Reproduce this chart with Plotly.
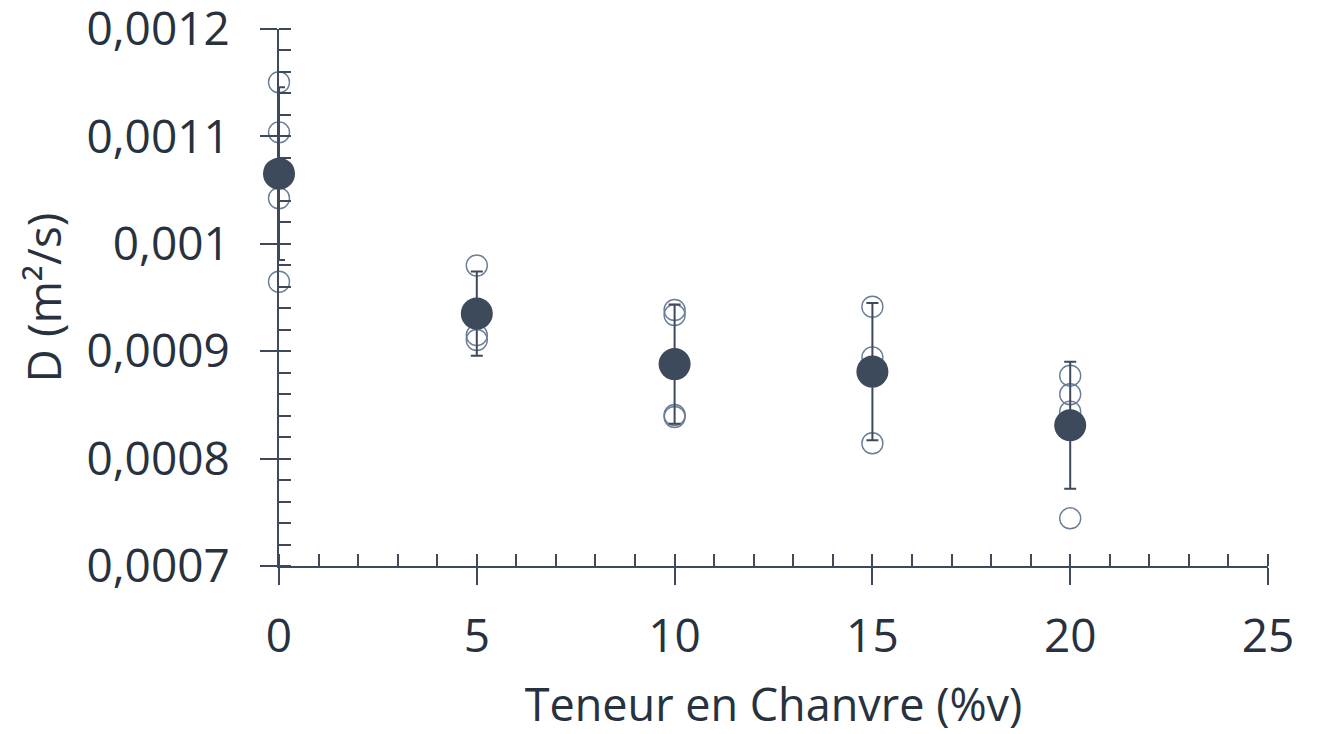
import plotly.graph_objects as go

# Data
teneur = [0, 5, 10, 15, 20]
d_mean = [0.0010653, 0.000935, 0.0008880, 0.0008810, 0.0008310]
d_err = [0.0000804, 0.0000392, 0.0000555, 0.0000639, 0.0000591]

ind_x = [0, 0, 0, 0,
         5, 5, 5,
         10, 10, 10, 10,
         15, 15, 15,
         20, 20, 20, 20]
ind_y = [0.0011504, 0.0011038, 0.0010424, 0.0009647,
         0.0009798, 0.0009150, 0.0009104,
         0.0009384, 0.0009337, 0.0008406, 0.0008387,
         0.0009414, 0.0008943, 0.0008143,
         0.0008772, 0.0008599, 0.0008437, 0.0007444]

x_title = "Teneur en Chanvre (%v)"
y_title = "D (m²/s)"

AX = "#3e4a5b"
TXT = "#28323f"
FONT = "Open Sans"

fig = go.Figure()
fig.add_trace(go.Scatter(
    x=ind_x, y=ind_y, mode="markers", cliponaxis=False,
    marker=dict(size=21, color="rgba(0,0,0,0)", line=dict(color="#6a7d97", width=1.4)),
    showlegend=False, hoverinfo="skip"))
fig.add_trace(go.Scatter(
    x=teneur, y=d_mean, mode="markers", cliponaxis=False,
    marker=dict(size=32, color="#3d4a5c", line=dict(width=0)),
    error_y=dict(type="data", array=d_err, visible=True, color=AX, thickness=2, width=6),
    showlegend=False))

XR = [0, 25.00001]
YR = [0.0007, 0.00120001]

fig.update_layout(
    width=1314, height=726,
    margin=dict(l=271, r=54, t=21, b=168),
    paper_bgcolor="white", plot_bgcolor="white",
    separators=",.",
    font=dict(family=FONT, color=TXT, size=46),
    xaxis=dict(range=XR, dtick=5, tick0=0, showgrid=False, zeroline=False, automargin=False,
               showline=True, linecolor=AX, linewidth=2,
               ticks="outside", ticklen=17, tickwidth=2, tickcolor=AX,
               ticklabelstandoff=12, ticklabeloverflow="allow",
               minor=dict(dtick=1, ticks="inside", ticklen=12, tickwidth=2, tickcolor=AX, showgrid=False),
               tickfont=dict(size=46, family=FONT, color=TXT),
               title=dict(text=x_title, font=dict(size=45, family=FONT, color=TXT), standoff=56)),
    yaxis=dict(range=YR, dtick=0.0001, tick0=0.0007, showgrid=False, zeroline=False, automargin=False,
               showline=True, linecolor=AX, linewidth=2,
               ticks="outside", ticklen=17, tickwidth=2, tickcolor=AX,
               tickformat="~g", ticklabelstandoff=21, ticklabeloverflow="allow",
               minor=dict(dtick=0.00002, ticks="inside", ticklen=12, tickwidth=2, tickcolor=AX, showgrid=False),
               tickfont=dict(size=46, family=FONT, color=TXT),
               title=dict(text=y_title, font=dict(size=46, family=FONT, color=TXT), standoff=10)),
    xaxis2=dict(range=XR, dtick=5, tick0=0, overlaying="x", anchor="y", side="bottom", automargin=False,
                showgrid=False, zeroline=False, showline=False, showticklabels=False,
                ticks="inside", ticklen=17, tickwidth=2, tickcolor=AX),
    yaxis2=dict(range=YR, dtick=0.0001, tick0=0.0007, overlaying="y", anchor="x", side="left", automargin=False,
                showgrid=False, zeroline=False, showline=False, showticklabels=False,
                ticks="inside", ticklen=17, tickwidth=2, tickcolor=AX),
)

fig.write_html("out.html")
